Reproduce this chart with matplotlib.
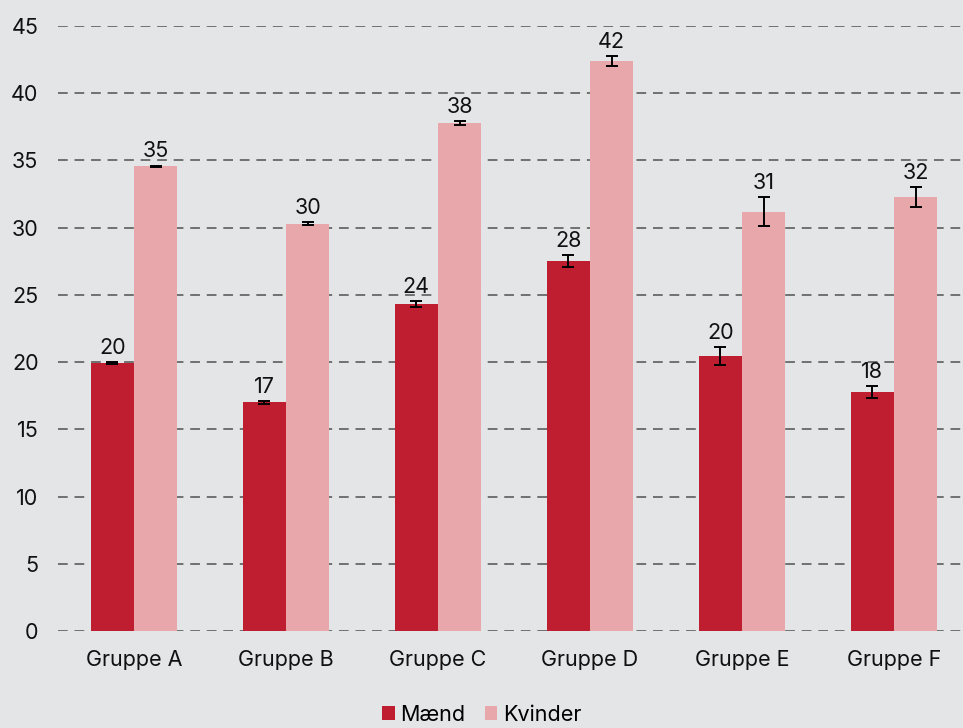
import numpy as np
import matplotlib.pyplot as plt

plt.rcParams['font.family'] = ['Inter', 'DejaVu Sans']

groups = ["Gruppe A", "Gruppe B", "Gruppe C", "Gruppe D", "Gruppe E", "Gruppe F"]
maend = [19.95, 17.0, 24.3, 27.5, 20.45, 17.75]
maend_err = [0.08, 0.12, 0.22, 0.45, 0.68, 0.45]
kvinder = [34.55, 30.3, 37.75, 42.4, 31.2, 32.3]
kvinder_err = [0.07, 0.12, 0.15, 0.35, 1.1, 0.74]

bg = "#e4e5e7"
c_m = "#be1e2f"
c_k = "#e8a7ab"

fig = plt.figure(figsize=(9.63, 7.28), dpi=100, facecolor=bg)
ax = fig.add_axes([58 / 963, 97 / 728, (970 - 58) / 963, 605 / 728])
ax.set_facecolor(bg)

x = np.arange(len(groups))
w = 0.286

for off, vals, errs, col, lab in [(-w / 2, maend, maend_err, c_m, "Mænd"),
                                  (w / 2, kvinder, kvinder_err, c_k, "Kvinder")]:
    ax.bar(x + off, vals, w, color=col, label=lab, zorder=2)
    ax.errorbar(x + off, vals, yerr=errs, fmt="none", ecolor="black",
                elinewidth=1.4, capsize=4.3, capthick=1.4, zorder=3)
    for xi, v, e in zip(x + off, vals, errs):
        ax.annotate(f"{v:.0f}", (xi, v + e), xytext=(0, 3), textcoords="offset points",
                    ha="center", va="bottom", fontsize=15.5, color="#111111",
                    annotation_clip=False)

ax.set_xlim(-0.5, 5.5)
ax.set_ylim(0, 45)
ax.set_yticks(range(0, 46, 5))
ax.set_xticks(x)
ax.set_xticklabels(groups)
ax.tick_params(axis="both", length=0, labelsize=15.5, colors="#111111")
ax.tick_params(axis="x", pad=14)
ax.tick_params(axis="y", pad=14)
for s in ax.spines.values():
    s.set_visible(False)
ax.grid(axis="y", color="#707070", linestyle=(0, (5, 3.5)), linewidth=1.4, zorder=1)
ax.set_axisbelow(True)

fig.legend(loc="lower center", bbox_to_anchor=(0.5, -0.022), ncol=2, frameon=False,
           fontsize=15.5, handlelength=0.6, handleheight=0.6, handletextpad=0.25,
           columnspacing=0.9)

fig.savefig("out.png", dpi=100, facecolor=bg)
